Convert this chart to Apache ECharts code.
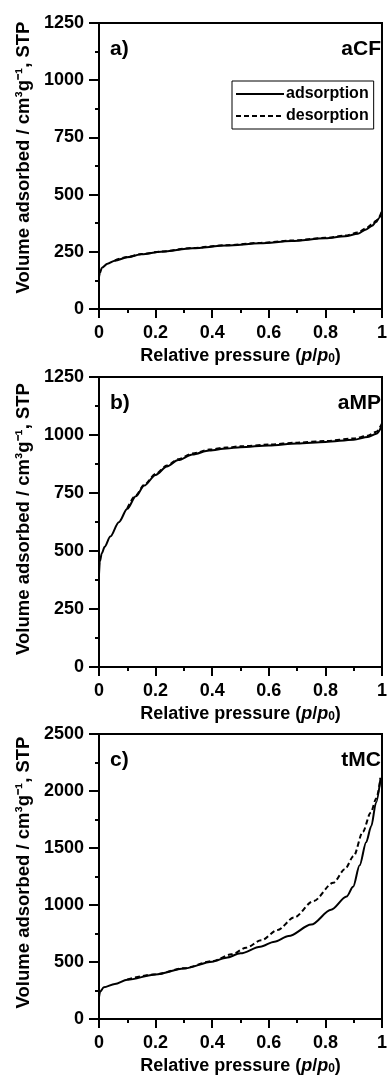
<!DOCTYPE html>
<html>
<head>
<meta charset="utf-8">
<script src="https://cdn.jsdelivr.net/npm/echarts@6/dist/echarts.min.js"></script>
<style>
  html, body { margin: 0; padding: 0; background: #fff; }
  #chart { width: 390px; height: 1076px; }
</style>
</head>
<body>
<div id="chart"></div>
<script>
// Nitrogen sorption isotherms, three samples stacked.

// --- a) aCF ---------------------------------------------------------------
const aCF_p_ads = [0, 0.003, 0.01, 0.03, 0.056, 0.1, 0.15, 0.22, 0.33, 0.45, 0.57, 0.68, 0.8, 0.87, 0.915, 0.944, 0.965, 0.979, 0.99, 1.0];
const aCF_ads   = [140, 156, 180, 198, 211, 226, 239, 250, 265, 277, 287, 297, 309, 318, 329, 348, 364, 380, 398, 428];
const aCF_p_des = [0.056, 0.1, 0.15, 0.22, 0.33, 0.45, 0.57, 0.68, 0.8, 0.87, 0.915, 0.944, 0.965, 0.979, 0.99, 1.0];
const aCF_des   = [212, 227, 240, 251, 267, 279, 289, 299, 311, 321, 334, 353, 370, 386, 403, 430];

// --- b) aMP ---------------------------------------------------------------
const aMP_p_ads = [0, 0.003, 0.01, 0.02, 0.04, 0.07, 0.1, 0.13, 0.16, 0.2, 0.24, 0.28, 0.33, 0.39, 0.45, 0.5, 0.6, 0.7, 0.8, 0.9, 0.95, 0.98, 1.0];
const aMP_ads   = [400, 455, 490, 518, 562, 624, 682, 736, 782, 828, 864, 892, 916, 933, 942, 947, 955, 963, 970, 980, 991, 1005, 1041];
const aMP_p_des = [0.1, 0.13, 0.16, 0.2, 0.24, 0.28, 0.33, 0.39, 0.45, 0.5, 0.6, 0.7, 0.8, 0.9, 0.95, 0.98, 1.0];
const aMP_des   = [684, 739, 786, 832, 868, 896, 920, 937, 946, 951, 959, 967, 974, 985, 997, 1014, 1050];

// --- c) tMC ---------------------------------------------------------------
const tMC_p_ads = [0, 0.004, 0.017, 0.056, 0.1, 0.2, 0.3, 0.4, 0.45, 0.5, 0.57, 0.62, 0.67, 0.75, 0.82, 0.875, 0.898, 0.921, 0.944, 0.962, 0.979, 0.995];
const tMC_ads   = [191, 240, 278, 307, 345, 390, 443, 503, 538, 576, 634, 678, 727, 828, 958, 1074, 1160, 1348, 1551, 1690, 1898, 2115];
const tMC_p_des = [0.1, 0.2, 0.3, 0.4, 0.468, 0.52, 0.573, 0.631, 0.689, 0.758, 0.828, 0.869, 0.9, 0.932, 0.96, 0.98, 0.995];
const tMC_des   = [347, 392, 446, 507, 567, 625, 690, 780, 890, 1035, 1195, 1315, 1430, 1640, 1810, 1935, 2115];

const panelLabels = ["a)", "b)", "c)"];
const sampleNames = ["aCF", "aMP", "tMC"];
const yMax = [1250, 1250, 2500];
const yStep = [250, 250, 500];

const FONT = "Liberation Sans, Arial, sans-serif";
const INK = "#000";

const grids = [
  { left: 99, top: 23, width: 287, height: 286 },
  { left: 99, top: 377, width: 287, height: 290 },
  { left: 99, top: 734, width: 287, height: 288 },
];
// The y titles sit a little above the plot centre in the original.
const yTitleLift = [17, 6, 8];

const zip = (xs, ys) => xs.map((x, i) => [x, ys[i]]);

const xName = "Relative pressure ({i|p}/{i|p}{sub|0})";
const yName = "Volume adsorbed / cm³g⁻¹, STP";

function xAxisFor(i) {
  return {
    gridIndex: i, type: "value", min: 0, max: 1, interval: 0.2,
    axisLine: { lineStyle: { color: INK, width: 2 } },
    axisTick: { inside: false, length: 9, lineStyle: { color: INK, width: 2 } },
    minorTick: { show: true, splitNumber: 2, length: 4, lineStyle: { color: INK, width: 2 } },
    splitLine: { show: false },
    axisLabel: { color: INK, fontFamily: FONT, fontWeight: "bold", fontSize: 18, margin: 15,
      formatter: (v) => String(+v.toFixed(1)) },
    name: xName, nameLocation: "middle", nameGap: 38,
    nameTextStyle: {
      color: INK, fontFamily: FONT, fontWeight: "bold", fontSize: 18,
      rich: {
        i: { color: INK, fontFamily: FONT, fontWeight: "bold", fontStyle: "italic", fontSize: 18 },
        sub: { color: INK, fontFamily: FONT, fontWeight: "bold", fontSize: 12, verticalAlign: "bottom", lineHeight: 8 },
      },
    },
  };
}

function yAxisFor(i) {
  return {
    gridIndex: i, type: "value", min: 0, max: yMax[i], interval: yStep[i],
    axisLine: { lineStyle: { color: INK, width: 2 } },
    axisTick: { inside: false, length: 10, lineStyle: { color: INK, width: 2 } },
    minorTick: { show: true, splitNumber: 2, length: 4, lineStyle: { color: INK, width: 2 } },
    splitLine: { show: false },
    axisLabel: { color: INK, fontFamily: FONT, fontWeight: "bold", fontSize: 18, margin: 15,
      formatter: (v) => String(v) },
    name: yName, nameLocation: "middle", nameGap: 61, nameRotate: 90,
    nameTextStyle: { color: INK, fontFamily: FONT, fontWeight: "bold", fontSize: 18.5,
      padding: [0, 0, 0, yTitleLift[i]] },
  };
}

function lineSeries(name, i, data, dashed) {
  return {
    name, type: "line", xAxisIndex: i, yAxisIndex: i, data,
    symbol: "none", smooth: 0.3, smoothMonotone: "x", silent: true,
    lineStyle: { color: INK, width: 2, type: dashed ? [5, 3] : "solid" },
    itemStyle: { color: INK },
    z: dashed ? 3 : 2,
  };
}

const chart = echarts.init(document.getElementById("chart"), null, { renderer: "canvas" });

chart.setOption({
  animation: false,
  backgroundColor: "#fff",
  grid: grids.map((g) => ({ ...g, show: true, borderColor: INK, borderWidth: 2, backgroundColor: "transparent" })),
  xAxis: [0, 1, 2].map(xAxisFor),
  yAxis: [0, 1, 2].map(yAxisFor),
  title: [0, 1, 2].flatMap((i) => [
    { text: panelLabels[i], left: 110, top: grids[i].top + 16, padding: 0,
      textStyle: { color: INK, fontFamily: FONT, fontWeight: "bold", fontSize: 21 } },
    { text: sampleNames[i], right: 9, top: grids[i].top + 16, padding: 0,
      textStyle: { color: INK, fontFamily: FONT, fontWeight: "bold", fontSize: 21 } },
  ]),
  legend: {
    data: ["adsorption", "desorption"],
    orient: "vertical", left: 232, top: 81,
    padding: [5, 5, 5, 3], itemGap: 6, itemWidth: 48, itemHeight: 14,
    borderColor: INK, borderWidth: 1, borderRadius: 0,
    itemStyle: { opacity: 0 },
    lineStyle: { width: 2 },
    textStyle: { color: INK, fontFamily: FONT, fontWeight: "bold", fontSize: 16, padding: [0, 0, 0, -3] },
    selectedMode: false,
  },
  series: [
    lineSeries("adsorption", 0, zip(aCF_p_ads, aCF_ads), false),
    lineSeries("desorption", 0, zip(aCF_p_des, aCF_des), true),
    lineSeries("adsorption", 1, zip(aMP_p_ads, aMP_ads), false),
    lineSeries("desorption", 1, zip(aMP_p_des, aMP_des), true),
    lineSeries("adsorption", 2, zip(tMC_p_ads, tMC_ads), false),
    lineSeries("desorption", 2, zip(tMC_p_des, tMC_des), true),
  ],
});
</script>
</body>
</html>
